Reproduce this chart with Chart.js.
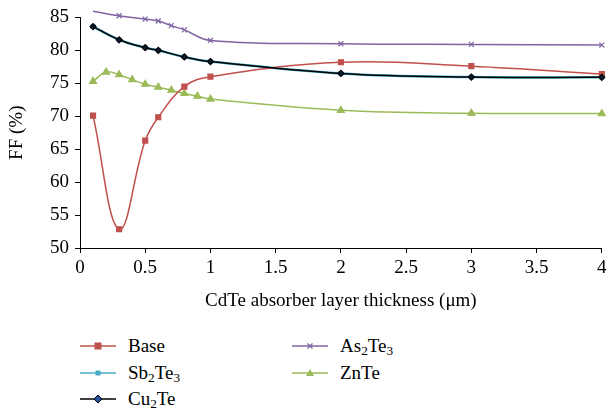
<!DOCTYPE html>
<html>
<head>
<meta charset="utf-8">
<script src="https://cdn.jsdelivr.net/npm/chart.js@4.4.1/dist/chart.umd.min.js"></script>
<style>
  body { margin: 0; background: #fff; }
  #wrap { position: relative; width: 607px; height: 415px; font-family: "Liberation Serif", serif; }
  #legend { position: absolute; left: 80px; top: 333px; display: grid; grid-template-rows: repeat(3, 26.5px); grid-auto-flow: column; grid-template-columns: 212px 200px; }
  .item { display: flex; align-items: center; font-size: 19px; color: #000; }
  .item svg { margin-right: 12px; }
  sub { font-size: 70%; vertical-align: -3px; line-height: 0; }
</style>
</head>
<body>
<div id="wrap">
  <canvas id="chartcanvas" width="607" height="312"></canvas>
  <div id="legend"></div>
</div>
<script>
var seriesNames = ["Base", "Sb2Te3", "Cu2Te", "As2Te3", "ZnTe"];

var baseX = [0.1, 0.3, 0.5, 0.6, 0.8, 1, 2, 3, 4];
var baseY = [70.1, 52.85, 66.3, 69.85, 74.5, 76.0, 78.2, 77.6, 76.4];

var cuX = [0.1, 0.3, 0.5, 0.6, 0.8, 1, 2, 3, 4];
var cuY = [83.6, 81.6, 80.4, 80.0, 79.0, 78.3, 76.5, 75.95, 75.9];

// Sb2Te3 sits right under the Cu2Te curve
var sbX = [0.1, 0.3, 0.5, 0.6, 0.8, 1, 2, 3, 4];
var sbY = [83.6, 81.6, 80.4, 80.0, 79.0, 78.3, 76.5, 75.95, 75.9];

var asX = [0.1, 0.3, 0.5, 0.6, 0.7, 0.8, 1, 2, 3, 4];
var asY = [85.95, 85.25, 84.75, 84.45, 83.75, 83.1, 81.5, 81.0, 80.9, 80.8];

var znX = [0.1, 0.2, 0.3, 0.4, 0.5, 0.6, 0.7, 0.8, 0.9, 1, 2, 3, 4];
var znY = [75.3, 76.7, 76.3, 75.55, 74.85, 74.4, 73.95, 73.45, 73.05, 72.6, 70.9, 70.45, 70.4];

var yTicks = [50, 55, 60, 65, 70, 75, 80, 85];

function pts(xs, ys) {
	var out = [];
	for (var i = 0; i < xs.length; i++) out.push({x: xs[i], y: ys[i]});
	return out;
}

var tickFont = {family: "Liberation Serif", size: 19};

var datasets = [
	{label: "Base", data: pts(baseX, baseY), borderColor: "#C0504D", backgroundColor: "#C0504D",
	 pointStyle: "rect", pointRadius: 3.5, order: 1},
	{label: "Sb2Te3", data: pts(sbX, sbY), borderColor: "#4BACC6", backgroundColor: "#4BACC6",
	 pointStyle: "rect", pointRadius: 2.5, borderWidth: 2.5, order: 5},
	{label: "Cu2Te", data: pts(cuX, cuY), borderColor: "#000000", backgroundColor: "#0d1a33",
	 pointBorderColor: "#000", pointStyle: "rectRot", pointRadius: 3, order: 0},
	{label: "As2Te3", data: pts(asX, asY), borderColor: "#8064A2", backgroundColor: "#8064A2",
	 pointStyle: "crossRot", pointRadius: 3.5, order: 2},
	{label: "ZnTe", data: pts(znX, znY), borderColor: "#9BBB59", backgroundColor: "#9BBB59",
	 pointStyle: "triangle", pointRadius: 4, order: 3}
];
datasets.forEach(function (d) {
	d.tension = 0.4;
	d.clip = false;
	if (!d.borderWidth) d.borderWidth = 1.5;
	d.pointBorderWidth = 1.2;
});

var ctx = document.getElementById("chartcanvas").getContext("2d");
var myChart = new Chart(ctx, {
	type: "line",
	data: {datasets: datasets},
	options: {
		responsive: false,
		animation: false,
		layout: {padding: {top: 8, right: 0, left: 0, bottom: 0}},
		plugins: {legend: {display: false}, tooltip: {enabled: false}},
		scales: {
			x: {
				type: "linear", min: 0, max: 4,
				afterFit: function (s) { s.height = 64; s.paddingRight = 4; },
				ticks: {stepSize: 0.5, color: "#000", font: tickFont, padding: 4, maxRotation: 0,
					callback: function (v) { return String(Math.round(v * 10) / 10); }},
				grid: {drawOnChartArea: false, drawTicks: true, tickLength: 5, color: "#000"},
				border: {color: "#000", width: 1},
				title: {display: true, text: "CdTe absorber layer thickness (\u03bcm)", color: "#000",
					font: {family: "Liberation Serif", size: 19}, padding: {top: 8, bottom: 0}}
			},
			y: {
				min: 50, max: 85,
				afterFit: function (s) { s.width = 80; },
				afterBuildTicks: function (s) { s.ticks = yTicks.map(function (v) { return {value: v}; }); },
				ticks: {color: "#000", font: tickFont, padding: 6},
				grid: {drawOnChartArea: false, drawTicks: true, tickLength: 5, color: "#000"},
				border: {color: "#000", width: 1},
				title: {display: true, text: "FF (%)", color: "#000",
					font: {family: "Liberation Serif", size: 19}, padding: {bottom: 0, top: 6}}
			}
		}
	}
});

// html legend so the subscripts render properly
function markerSvg(d) {
	var c = d.borderColor, f = d.backgroundColor, m = "";
	if (d.pointStyle === "rect") {
		var r = d.pointRadius;
		m = '<rect x="' + (18 - r) + '" y="' + (6 - r) + '" width="' + 2 * r + '" height="' + 2 * r + '" fill="' + f + '"/>';
	} else if (d.pointStyle === "rectRot") {
		m = '<polygon points="18,2 22,6 18,10 14,6" fill="#1F4E9A" stroke="#000" stroke-width="1"/>';
	} else if (d.pointStyle === "crossRot") {
		m = '<path d="M15.5,3.5 L20.5,8.5 M20.5,3.5 L15.5,8.5" stroke="' + c + '" stroke-width="1.3"/>';
	} else if (d.pointStyle === "triangle") {
		m = '<polygon points="18,2 22,9 14,9" fill="' + f + '"/>';
	}
	return '<svg width="36" height="12"><line x1="0" y1="6" x2="36" y2="6" stroke="' + c + '" stroke-width="1.5"/>' + m + '</svg>';
}
var legendOrder = ["Base", "Sb2Te3", "Cu2Te", "As2Te3", "ZnTe"];
var html = "";
legendOrder.forEach(function (name) {
	var d = datasets.filter(function (x) { return x.label === name; })[0];
	html += '<div class="item">' + markerSvg(d) + '<span>' + name.replace(/(\d)/g, "<sub>$1</sub>") + '</span></div>';
});
document.getElementById("legend").innerHTML = html;
</script>
</body>
</html>
